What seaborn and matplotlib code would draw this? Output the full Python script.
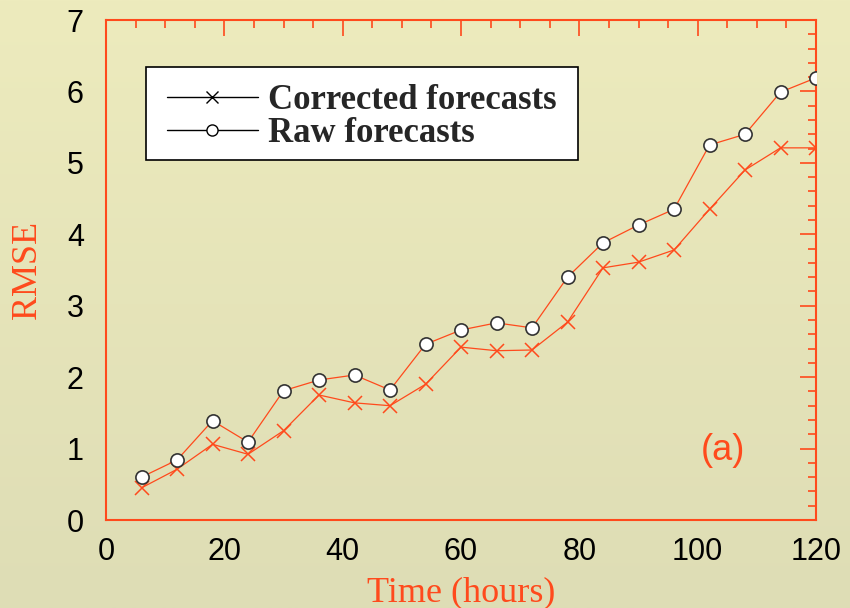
import numpy as np
import pandas as pd
import matplotlib
matplotlib.use("Agg")
import matplotlib.pyplot as plt
from matplotlib.lines import Line2D
from matplotlib.patches import Rectangle
import seaborn as sns

hours = [6, 12, 18, 24, 30, 36, 42, 48, 54, 60, 66, 72, 78, 84, 90, 96, 102, 108, 114, 120]
corrected = [0.45, 0.71, 1.06, 0.92, 1.25, 1.75, 1.64, 1.60, 1.90, 2.42, 2.37, 2.38,
             2.77, 3.53, 3.61, 3.78, 4.35, 4.90, 5.21, 5.21]
raw = [0.60, 0.84, 1.39, 1.09, 1.81, 1.96, 2.03, 1.82, 2.46, 2.66, 2.76, 2.69,
       3.40, 3.88, 4.13, 4.35, 5.25, 5.40, 5.99, 6.19]
series_labels = ["Corrected forecasts", "Raw forecasts"]
x_ticks = [0, 20, 40, 60, 80, 100, 120]
y_ticks = [0, 1, 2, 3, 4, 5, 6, 7]

sns.set_theme(style="white")
plt.rcParams['font.family'] = ['Liberation Sans', 'DejaVu Sans']

ORANGE = '#FF4A1C'

fig = plt.figure(figsize=(8.5, 6.08), dpi=100)

# gradient background
bg = fig.add_axes([0, 0, 1, 1], zorder=-10)
top = np.array([237, 235, 189]) / 255
bot = np.array([222, 221, 181]) / 255
t = np.linspace(0, 1, 256)[:, None]
grad = top[None, :] * (1 - t) + bot[None, :] * t
bg.imshow(grad[:, None, :], aspect='auto', extent=[0, 1, 0, 1])
bg.axis('off')

ax = fig.add_axes([106 / 850, 1 - 520 / 608, 710 / 850, 500 / 608])
ax.set_facecolor('none')

df = pd.DataFrame({"hours": hours, "corrected": corrected, "raw": raw})

sns.lineplot(data=df, x="hours", y="corrected", ax=ax, color=ORANGE, linewidth=0.9,
             marker='x', markersize=9.5, markeredgewidth=1.1, markeredgecolor=ORANGE, zorder=3)
sns.lineplot(data=df, x="hours", y="raw", ax=ax, color=ORANGE, linewidth=0.9,
             marker='o', markersize=9.5, markerfacecolor='white', markeredgecolor='#333333',
             markeredgewidth=1.2, zorder=4)

ax.set_xlim(0, 120)
ax.set_ylim(0, 7)
ax.set_xticks(x_ticks)
ax.set_yticks(y_ticks)
ax.set_xticks(np.arange(0, 121, 5), minor=True)
ax.set_yticks(np.arange(0, 7.01, 0.2), minor=True)

for s in ax.spines.values():
    s.set_color(ORANGE)
    s.set_linewidth(1.5)
    s.set_visible(True)

ax.tick_params(which='both', direction='in', top=True, right=True, color=ORANGE,
               labelsize=22, labelcolor='black')
ax.tick_params(which='major', length=11.5, width=1.2)
ax.tick_params(which='minor', length=6, width=1.2)
ax.tick_params(axis='x', which='major', pad=12)
ax.tick_params(axis='y', which='major', pad=16)

ax.set_xlabel("Time (hours)", fontsize=26, color=ORANGE, family='Liberation Serif', labelpad=7)
ax.set_ylabel("RMSE", fontsize=26, color=ORANGE, family='Liberation Serif', labelpad=16)

ax.text(0.869, 0.14, "(a)", transform=ax.transAxes, fontsize=26, color=ORANGE,
        ha='center', va='center', family='Liberation Sans')

# legend frame
ax.add_patch(Rectangle((40 / 710, (520 - 160) / 500), (578 - 146) / 710, 93 / 500,
                       transform=ax.transAxes, facecolor='white', edgecolor='black',
                       linewidth=1.2, zorder=5))
handles = [
    Line2D([], [], color='black', lw=1, marker='x', markersize=8, markeredgewidth=1),
    Line2D([], [], color='black', lw=1, marker='o', markersize=8, markerfacecolor='white',
           markeredgecolor='black', markeredgewidth=1),
]
leg = ax.legend(handles, series_labels, loc='upper left',
                bbox_to_anchor=((167 - 106) / 710, (520 - 84) / 500),
                frameon=False, borderpad=0, borderaxespad=0, handlelength=2.62,
                handletextpad=0.29, labelspacing=0.0,
                prop={'family': 'Liberation Serif', 'weight': 'bold', 'size': 25})
leg.set_zorder(6)

fig.savefig("out.png", dpi=100)
